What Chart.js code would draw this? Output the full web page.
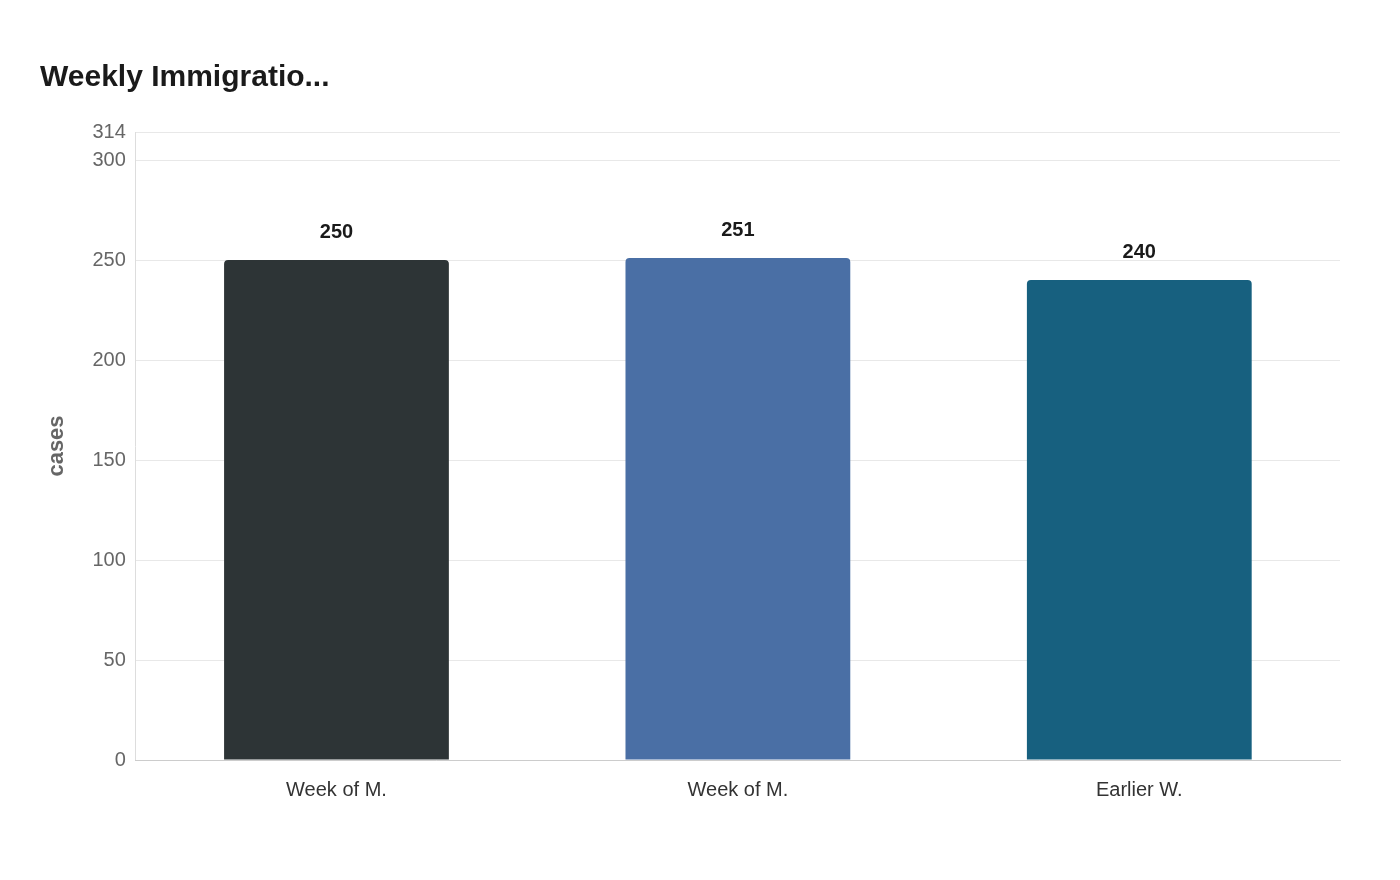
<!DOCTYPE html>
<html><head><meta charset="utf-8">
<script src="https://cdn.jsdelivr.net/npm/chart.js@4/dist/chart.umd.min.js"></script>
<style>html,body{margin:0;background:#fff}#w{width:1400px;height:880px}</style>
</head><body><div id="w"><canvas id="c"></canvas></div>
<script>
const categories = ["Week of M.", "Week of M.", "Earlier W."];
const values = [250, 251, 240];
const colors = ["#2d3436", "#4a6fa5", "#17607f"];
const yTicks = [0, 50, 100, 150, 200, 250, 300, 314];

const labelPlugin = {
  id: 'lbl',
  afterDatasetsDraw(chart) {
    const ctx = chart.ctx;
    const meta = chart.getDatasetMeta(0);
    ctx.save();
    ctx.font = 'bold 20px "Liberation Sans", Arial, sans-serif';
    ctx.fillStyle = '#1a1a1a';
    ctx.textAlign = 'center';
    ctx.textBaseline = 'bottom';
    meta.data.forEach((b, i) => ctx.fillText(String(values[i]), b.x, b.y - 18));
    ctx.restore();
  }
};

new Chart(document.getElementById('c'), {
  type: 'bar',
  data: { labels: categories, datasets: [{ data: values, backgroundColor: colors,
    borderRadius: {topLeft: 4, topRight: 4}, borderSkipped: 'bottom',
    barPercentage: 0.56, categoryPercentage: 1 }] },
  plugins: [labelPlugin],
  options: {
    responsive: true, maintainAspectRatio: false, animation: false,
    layout: { padding: { left: 40, right: 60, top: 50, bottom: 60 } },
    plugins: {
      legend: { display: false }, tooltip: { enabled: false },
      title: { display: true, text: 'Weekly Immigratio...', align: 'start',
        color: '#1a1a1a', font: { family: '"Liberation Sans", Arial, sans-serif', size: 30, weight: 'bold' },
        padding: { top: 10, bottom: 36 } }
    },
    scales: {
      y: { min: 0, max: 314,
        afterBuildTicks(ax) { ax.ticks = yTicks.map(v => ({ value: v })); },
        ticks: { color: '#666', font: { family: '"Liberation Sans", Arial, sans-serif', size: 20 }, padding: 10 },
        grid: { color: '#e8e8e8', drawTicks: false },
        border: { color: '#ddd' },
        title: { display: true, text: 'cases', color: '#666',
          font: { family: '"Liberation Sans", Arial, sans-serif', size: 22, weight: 'bold' }, padding: { bottom: 12 } } },
      x: { ticks: { color: '#333', font: { family: '"Liberation Sans", Arial, sans-serif', size: 20 }, padding: 18 },
        grid: { display: false, drawTicks: false }, border: { color: '#ccc' } }
    }
  }
});
</script></body></html>
